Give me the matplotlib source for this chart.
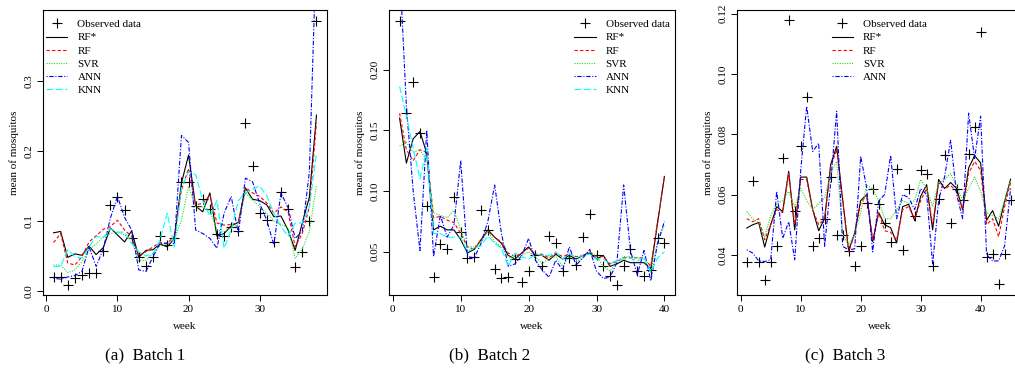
import matplotlib
matplotlib.use("Agg")
import matplotlib.pyplot as plt
import numpy as np

plt.rcParams['font.family'] = ['Liberation Serif', 'DejaVu Serif']

# ---- Batch 1 (38 weeks)
obs1 = [0.020, 0.020, 0.009, 0.018, 0.023, 0.025, 0.025, 0.057, 0.123, 0.134, 0.116, 0.075, 0.048, 0.036, 0.049, 0.078,
        0.066, 0.075, 0.155, 0.155, 0.121, 0.131, 0.117, 0.082, 0.079, 0.091, 0.086, 0.240, 0.179, 0.112, 0.102, 0.070,
        0.141, 0.117, 0.034, 0.055, 0.100, 0.386]
rfs1 = [0.083, 0.085, 0.048, 0.053, 0.051, 0.064, 0.052, 0.062, 0.090, 0.080, 0.070, 0.086, 0.048, 0.058, 0.059, 0.067,
        0.063, 0.075, 0.154, 0.194, 0.121, 0.113, 0.140, 0.078, 0.082, 0.093, 0.098, 0.147, 0.131, 0.129, 0.123, 0.106,
        0.107, 0.087, 0.058, 0.097, 0.134, 0.251]
rf1 = [0.069, 0.082, 0.040, 0.037, 0.049, 0.070, 0.079, 0.088, 0.092, 0.101, 0.087, 0.078, 0.051, 0.056, 0.063, 0.069,
       0.068, 0.078, 0.144, 0.175, 0.123, 0.125, 0.137, 0.097, 0.094, 0.095, 0.097, 0.148, 0.140, 0.135, 0.126, 0.111,
       0.120, 0.113, 0.063, 0.082, 0.120, 0.240]
svr1 = [0.037, 0.037, 0.026, 0.030, 0.042, 0.059, 0.067, 0.078, 0.082, 0.084, 0.080, 0.074, 0.043, 0.044, 0.054, 0.065,
        0.066, 0.074, 0.101, 0.149, 0.120, 0.120, 0.115, 0.087, 0.085, 0.090, 0.095, 0.140, 0.130, 0.120, 0.111, 0.100,
        0.095, 0.090, 0.047, 0.060, 0.085, 0.151]
ann1 = [0.018, 0.017, 0.020, 0.022, 0.028, 0.063, 0.035, 0.060, 0.104, 0.135, 0.105, 0.087, 0.030, 0.028, 0.049, 0.068,
        0.068, 0.068, 0.222, 0.212, 0.087, 0.082, 0.075, 0.061, 0.111, 0.135, 0.082, 0.161, 0.156, 0.125, 0.101, 0.066,
        0.140, 0.119, 0.075, 0.085, 0.170, 0.500]
knn1 = [0.035, 0.035, 0.059, 0.049, 0.047, 0.063, 0.078, 0.076, 0.089, 0.084, 0.084, 0.068, 0.056, 0.050, 0.053, 0.074,
        0.111, 0.063, 0.147, 0.170, 0.166, 0.129, 0.107, 0.129, 0.061, 0.087, 0.129, 0.140, 0.145, 0.150, 0.136, 0.111,
        0.092, 0.078, 0.097, 0.097, 0.120, 0.197]

# ---- Batch 2 (40 weeks)
obs2 = [0.240, 0.164, 0.190, 0.148, 0.088, 0.029, 0.056, 0.052, 0.095, 0.066, 0.045, 0.046, 0.084, 0.068, 0.036, 0.028,
        0.029, 0.044, 0.025, 0.034, 0.047, 0.038, 0.063, 0.057, 0.034, 0.045, 0.039, 0.062, 0.081, 0.047, 0.038, 0.030,
        0.023, 0.038, 0.052, 0.034, 0.030, 0.035, 0.061, 0.057]
rfs2 = [0.160, 0.123, 0.143, 0.149, 0.131, 0.068, 0.071, 0.068, 0.068, 0.060, 0.049, 0.052, 0.060, 0.068, 0.062, 0.057,
        0.047, 0.044, 0.049, 0.054, 0.047, 0.047, 0.043, 0.048, 0.044, 0.047, 0.044, 0.047, 0.049, 0.044, 0.047, 0.038,
        0.040, 0.043, 0.041, 0.041, 0.041, 0.036, 0.074, 0.112]
rf2 = [0.164, 0.134, 0.125, 0.134, 0.132, 0.078, 0.079, 0.076, 0.074, 0.065, 0.054, 0.052, 0.060, 0.067, 0.062, 0.058,
       0.049, 0.046, 0.049, 0.053, 0.048, 0.048, 0.045, 0.049, 0.046, 0.048, 0.046, 0.047, 0.050, 0.046, 0.046, 0.040,
       0.042, 0.045, 0.045, 0.045, 0.045, 0.038, 0.075, 0.112]
svr2 = [0.137, 0.140, 0.132, 0.134, 0.125, 0.082, 0.080, 0.078, 0.084, 0.068, 0.054, 0.054, 0.058, 0.067, 0.058, 0.054,
        0.046, 0.044, 0.047, 0.050, 0.046, 0.040, 0.045, 0.046, 0.038, 0.046, 0.042, 0.045, 0.050, 0.046, 0.038, 0.034,
        0.042, 0.046, 0.046, 0.045, 0.044, 0.034, 0.058, 0.072]
ann2 = [0.285, 0.170, 0.100, 0.051, 0.150, 0.046, 0.080, 0.062, 0.072, 0.125, 0.046, 0.045, 0.057, 0.075, 0.105, 0.065,
        0.038, 0.040, 0.047, 0.061, 0.043, 0.035, 0.029, 0.043, 0.035, 0.054, 0.039, 0.045, 0.052, 0.034, 0.028, 0.029,
        0.041, 0.105, 0.051, 0.031, 0.051, 0.026, 0.057, 0.075]
knn2 = [0.186, 0.162, 0.135, 0.110, 0.135, 0.065, 0.065, 0.062, 0.062, 0.062, 0.050, 0.053, 0.055, 0.063, 0.057, 0.053,
        0.038, 0.049, 0.046, 0.044, 0.048, 0.047, 0.047, 0.050, 0.044, 0.048, 0.045, 0.047, 0.048, 0.044, 0.044, 0.040,
        0.043, 0.044, 0.045, 0.042, 0.046, 0.033, 0.045, 0.050]

# ---- Batch 3 (45 weeks visible)
obs3 = [0.0378, 0.0646, 0.0378, 0.0317, 0.0378, 0.0428, 0.0721, 0.1178, 0.0544, 0.0760, 0.0924, 0.0428, 0.0455, 0.0519,
        0.0657, 0.0466, 0.0466, 0.0414, 0.0364, 0.0428, 0.0572, 0.0618, 0.0569, 0.0507, 0.0442, 0.0685, 0.0417, 0.0618,
        0.0530, 0.0682, 0.0669, 0.0363, 0.0585, 0.0732, 0.0507, 0.0618, 0.0583, 0.0736, 0.0824, 0.1140, 0.0392, 0.0403,
        0.0304, 0.0403, 0.0583]
rfs3 = [0.0489, 0.0500, 0.0507, 0.0426, 0.0500, 0.0560, 0.0544, 0.0677, 0.0483, 0.0658, 0.0658, 0.0550, 0.0480, 0.0522,
        0.0700, 0.0760, 0.0583, 0.0414, 0.0472, 0.0580, 0.0600, 0.0444, 0.0540, 0.0500, 0.0490, 0.0440, 0.0560, 0.0568,
        0.0514, 0.0594, 0.0633, 0.0483, 0.0650, 0.0620, 0.0640, 0.0620, 0.0550, 0.0688, 0.0729, 0.0705, 0.0515, 0.0547,
        0.0495, 0.0577, 0.0651]
rf3 = [0.0520, 0.0510, 0.0520, 0.0450, 0.0500, 0.0550, 0.0540, 0.0670, 0.0500, 0.0650, 0.0650, 0.0550, 0.0500, 0.0520,
       0.0690, 0.0750, 0.0580, 0.0410, 0.0470, 0.0570, 0.0600, 0.0450, 0.0540, 0.0480, 0.0475, 0.0450, 0.0550, 0.0560,
       0.0520, 0.0580, 0.0620, 0.0500, 0.0640, 0.0620, 0.0630, 0.0610, 0.0550, 0.0670, 0.0710, 0.0680, 0.0500, 0.0520,
       0.0460, 0.0560, 0.0640]
svr3 = [0.0544, 0.0520, 0.0507, 0.0460, 0.0530, 0.0570, 0.0580, 0.0610, 0.0560, 0.0620, 0.0580, 0.0550, 0.0570, 0.0590,
        0.0670, 0.0710, 0.0470, 0.0430, 0.0470, 0.0540, 0.0630, 0.0620, 0.0580, 0.0520, 0.0520, 0.0550, 0.0580, 0.0570,
        0.0580, 0.0650, 0.0620, 0.0560, 0.0640, 0.0650, 0.0670, 0.0630, 0.0580, 0.0620, 0.0658, 0.0610, 0.0540, 0.0530,
        0.0520, 0.0580, 0.0650]
ann3 = [0.0417, 0.0406, 0.0380, 0.0378, 0.0384, 0.0610, 0.0455, 0.0510, 0.0384, 0.0680, 0.0893, 0.0743, 0.0770, 0.0428,
        0.0640, 0.0876, 0.0428, 0.0417, 0.0420, 0.0727, 0.0622, 0.0410, 0.0580, 0.0600, 0.0730, 0.0520, 0.0600, 0.0590,
        0.0550, 0.0620, 0.0600, 0.0370, 0.0580, 0.0660, 0.0780, 0.0600, 0.0520, 0.0870, 0.0720, 0.0860, 0.0400, 0.0380,
        0.0380, 0.0430, 0.0620]

labels = ["Observed data", "RF*", "RF", "SVR", "ANN", "KNN"]
captions = ["(a)  Batch 1", "(b)  Batch 2", "(c)  Batch 3"]
yticks1 = [0.0, 0.1, 0.2, 0.3]
yticks2 = [0.05, 0.10, 0.15, 0.20]
yticks3 = [0.04, 0.06, 0.08, 0.10, 0.12]

W, H = 1015, 374
fig = plt.figure(figsize=(W / 100, H / 100), dpi=100)

styles = [
    dict(color='black', ls='-'),
    dict(color='red', ls=(0, (3, 2))),
    dict(color='#22dd22', ls=(0, (1, 1.2))),
    dict(color='blue', ls=(0, (1, 1.5, 4, 1.5))),
    dict(color='cyan', ls=(0, (6, 2.5))),
]


def panel(px_left, px_right, series, ylim, xlim, yticks, yfmt, xticks, legend_kw, caption, cap_x):
    ax = fig.add_axes([px_left / W, (H - 295) / H, (px_right - px_left) / W, 285 / H])
    obs = series[0]
    weeks = np.arange(1, len(obs) + 1)
    ax.plot(weeks, obs, ls='none', marker='+', ms=7, mew=0.8, color='black', label=labels[0])
    for k, s in enumerate(series[1:]):
        ax.plot(weeks[:len(s)], s, lw=0.8, label=labels[k + 1], **styles[k])
    ax.set_xlim(*xlim)
    ax.set_ylim(*ylim)
    ax.set_xticks(xticks)
    ax.set_yticks(yticks)
    ax.set_yticklabels([yfmt % v for v in yticks], rotation=90, va='center')
    ax.tick_params(direction='out', length=4, width=0.7, labelsize=8, pad=3)
    for sp in ax.spines.values():
        sp.set_linewidth(0.8)
    ax.set_xlabel("week", fontsize=8, labelpad=6)
    ax.set_ylabel("mean of mosquitos", fontsize=8, labelpad=4)
    ax.legend(frameon=False, fontsize=8, handlelength=1.9, labelspacing=0.3,
              handletextpad=0.9, borderpad=0.2, borderaxespad=0.3, **legend_kw)
    fig.text(cap_x / W, 1 - 355 / H, caption, fontsize=12.3, ha='center', va='center')
    return ax


panel(43, 327, [obs1, rfs1, rf1, svr1, ann1, knn1], (-0.0057, 0.401), (-0.48, 39.48),
      yticks1, '%.1f', [0, 10, 20, 30], dict(loc='upper left', bbox_to_anchor=(-0.008, 0.986)), captions[0], 145)
panel(389, 675, [obs2, rfs2, rf2, svr2, ann2, knn2], (0.0144, 0.249), (-0.56, 41.56),
      yticks2, '%.2f', [0, 10, 20, 30, 40], dict(loc='upper right', bbox_to_anchor=(1.0, 0.986)), captions[1], 490)
ax3 = panel(737, 1022, [obs3, rfs3, rf3, svr3, ann3], (0.0267, 0.1212), (-0.62, 46.9),
            yticks3, '%.2f', [0, 10, 20, 30, 40],
            dict(loc='upper left', bbox_to_anchor=(0.313, 0.986)), captions[2], 845)

fig.savefig("out.png", dpi=100)
